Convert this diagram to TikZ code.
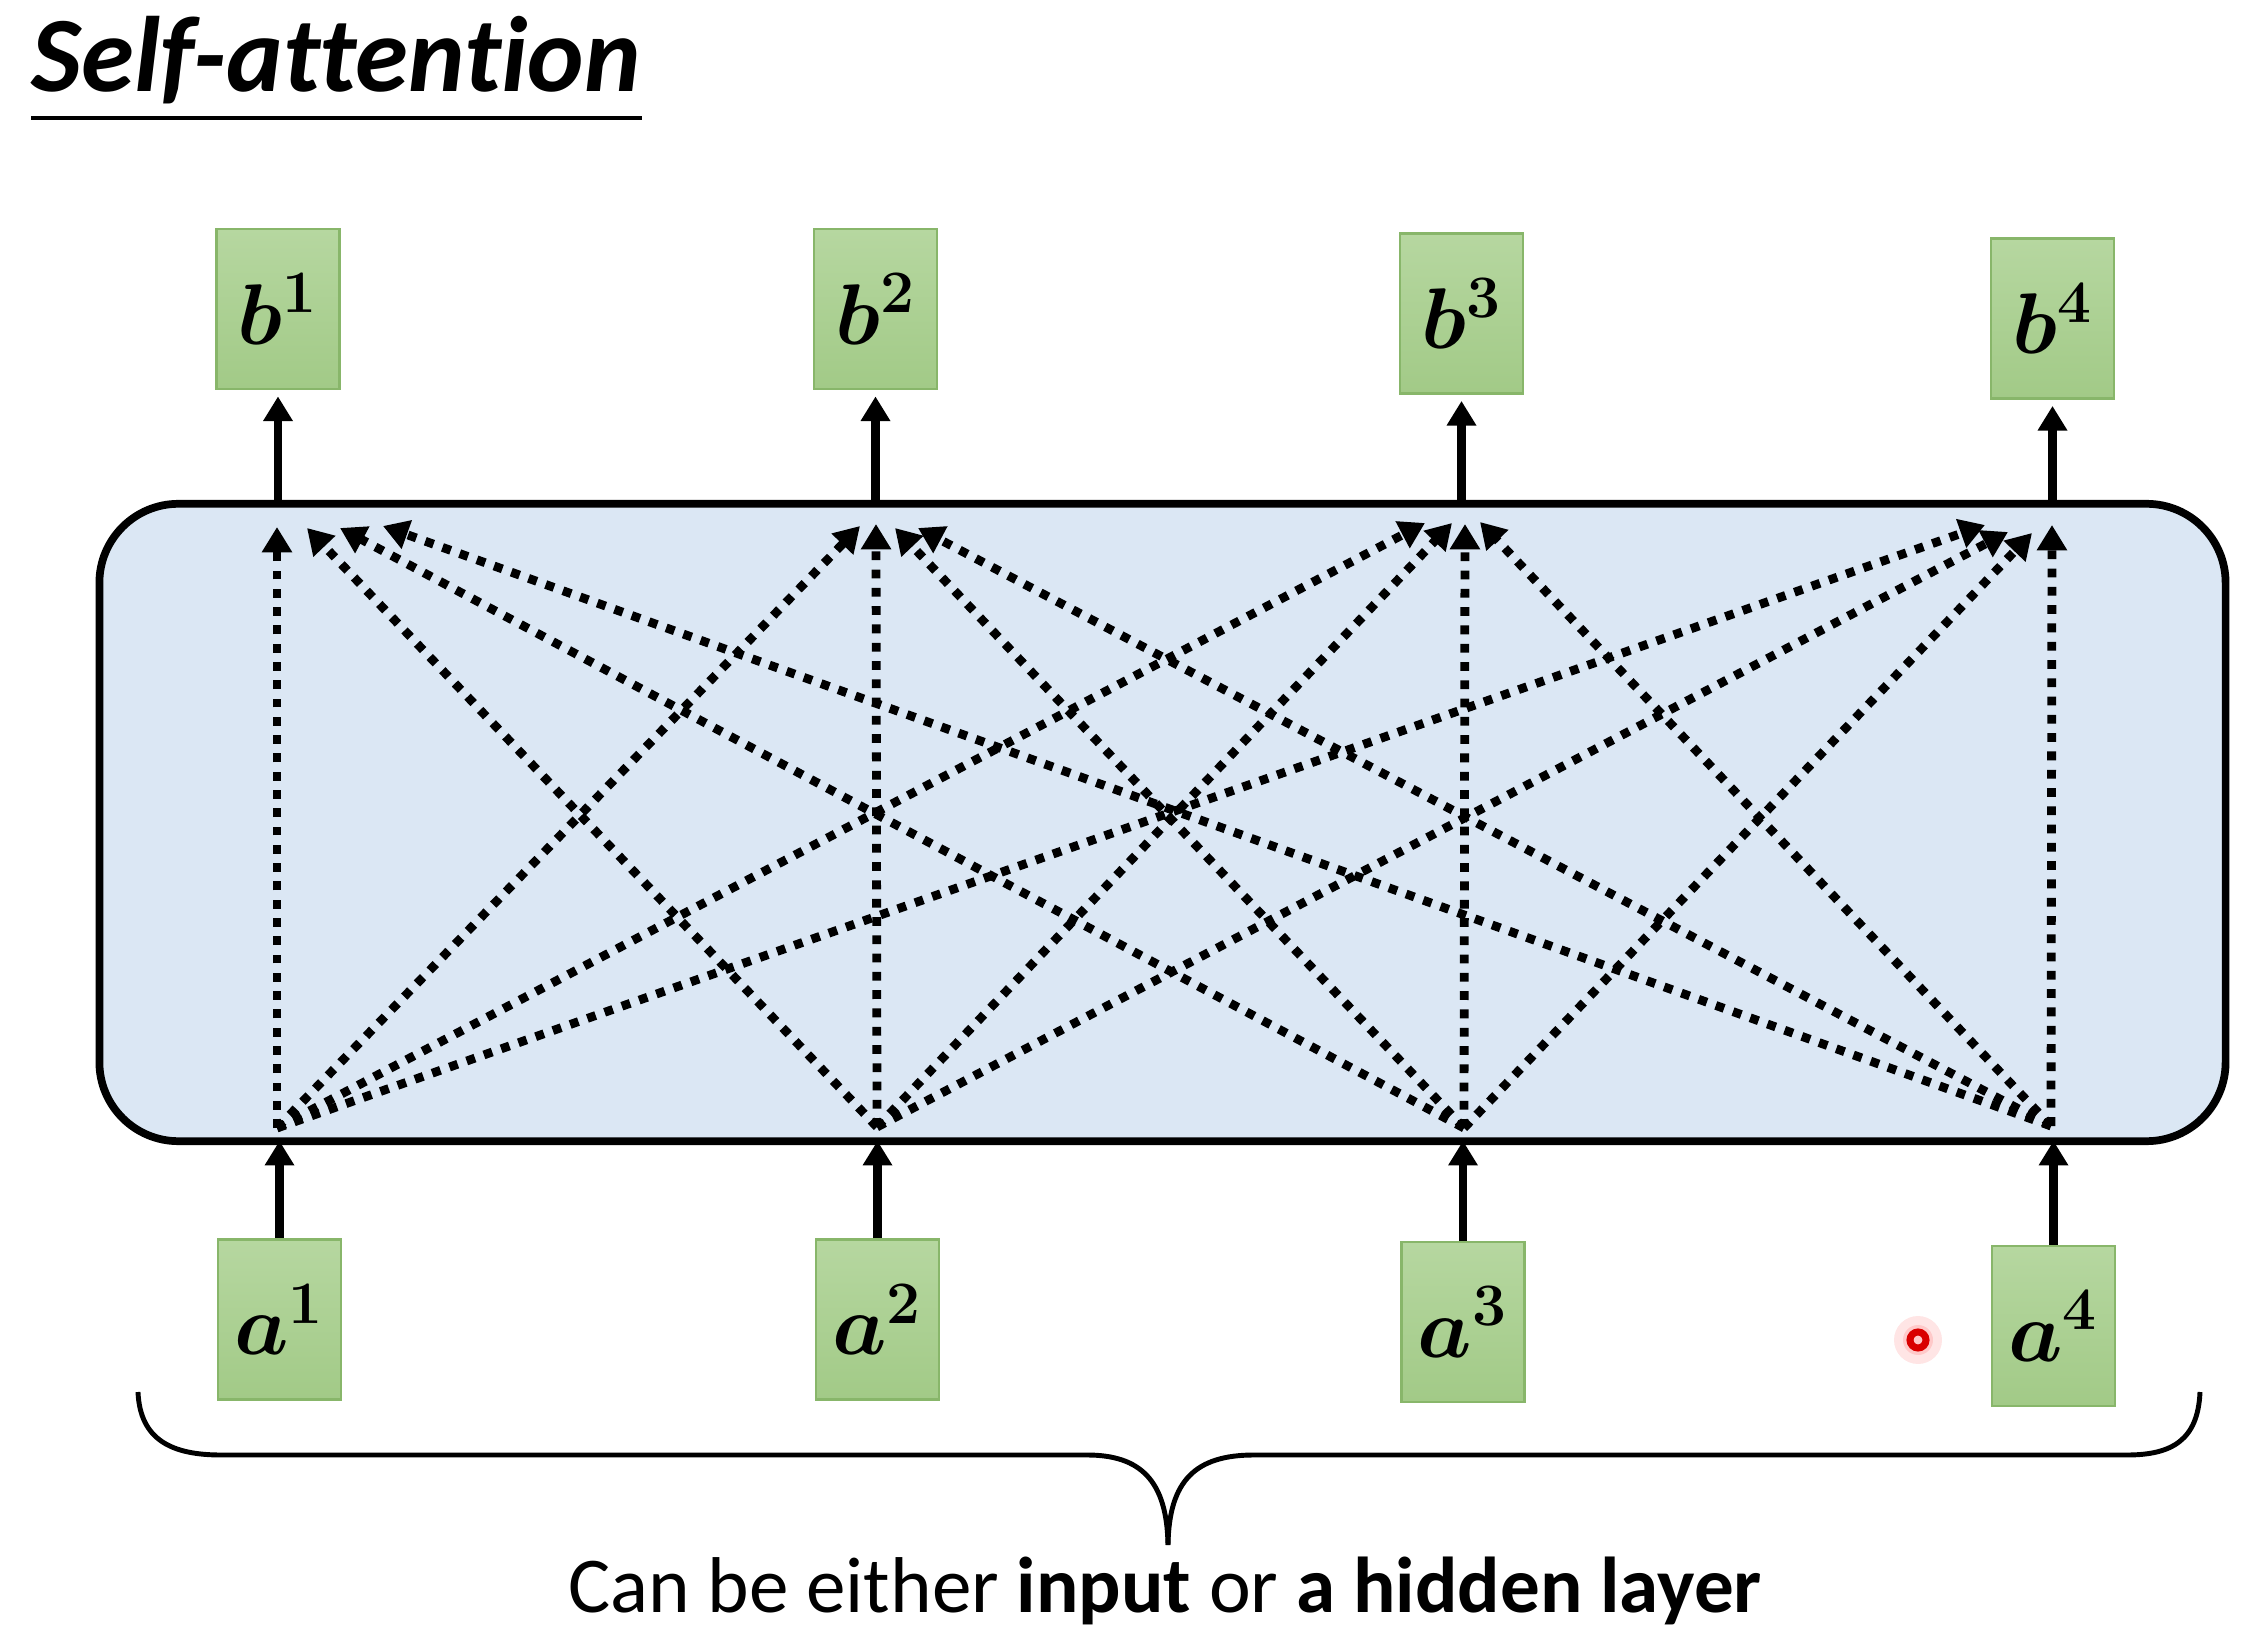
\RequirePackage{fix-cm}
\documentclass[tikz,border=0pt]{standalone}
\usepackage{amsmath}
\usepackage{fontspec}
\newfontfamily\calibri[Ligatures=NoCommon]{Carlito}
\usetikzlibrary{arrows.meta}
\definecolor{boxtop}{RGB}{182,215,160}
\definecolor{boxbot}{RGB}{162,202,135}
\definecolor{boxline}{RGB}{136,182,106}
\definecolor{attnfill}{RGB}{219,231,244}
\begin{document}
\begin{tikzpicture}[x=0.01cm,y=-0.01cm,
  greenbox/.style={draw=boxline, line width=0.8pt, top color=boxtop, bottom color=boxbot,
    minimum width=1.23cm, minimum height=1.60cm, inner sep=0pt,
    font=\fontsize{24.5}{28}\selectfont\boldmath},
  attnbox/.style={draw=black, line width=2.2pt, fill=attnfill, rounded corners=0.79cm,
    minimum width=21.25cm, minimum height=6.37cm, inner sep=0pt},
  solidarrow/.style={line width=2.4pt, -{Triangle[length=7pt,width=8pt]}},
  dotarrow/.style={line width=2.5pt, dash pattern=on 2.5pt off 2.7pt,
    -{Triangle[length=7.2pt,width=8.2pt]}},
  bracestyle/.style={line width=1.4pt}
]
\fill[white] (0,0) rectangle (2244,1652);
\useasboundingbox (0,0) rectangle (2244,1652);

% title
\node[anchor=base west, inner sep=0pt, font=\calibri\bfseries\itshape\fontsize{30.5}{36}\selectfont] (title) at (31,92) {Self-attention};
\draw[line width=1pt] (31,118) -- (title.east |- 0,118);

% attention block
\node[attnbox] (attn) at (1162.5,822.5) {};

% output boxes
\node[greenbox] (b1) at (278,309) {$b^{1}$};
\node[greenbox] (b2) at (875.5,309) {$b^{2}$};
\node[greenbox] (b3) at (1461.5,313.5) {$b^{3}$};
\node[greenbox] (b4) at (2052.5,318.5) {$b^{4}$};

% input boxes
\node[greenbox] (a1) at (279.5,1319.5) {$a^{1}$};
\node[greenbox] (a2) at (877.5,1319.5) {$a^{2}$};
\node[greenbox] (a3) at (1463,1322) {$a^{3}$};
\node[greenbox] (a4) at (2053.5,1326) {$a^{4}$};

% solid arrows
\foreach \k in {1,...,4}{
  \draw[solidarrow, shorten >=1.7pt] (b\k.south |- attn.north) -- (b\k.south);
  \draw[solidarrow, shorten >=-1.2pt] (a\k.north) -- (a\k.north |- attn.south);
}

% dotted attention connections
\coordinate (s1) at (277,1128);
\coordinate (s2) at (877,1127);
\coordinate (s3) at (1464,1128);
\coordinate (s4) at (2051,1126);

\coordinate (t1-1) at (277,527);
\coordinate (t1-2) at (307,528);
\coordinate (t1-3) at (340,528);
\coordinate (t1-4) at (383,526);
\coordinate (t2-1) at (860,526);
\coordinate (t2-2) at (876,524);
\coordinate (t2-3) at (895,528);
\coordinate (t2-4) at (918,528);
\coordinate (t3-1) at (1425,523);
\coordinate (t3-2) at (1452,523);
\coordinate (t3-3) at (1465,524);
\coordinate (t3-4) at (1480,522);
\coordinate (t4-1) at (1985,525);
\coordinate (t4-2) at (2008,532);
\coordinate (t4-3) at (2032,533);
\coordinate (t4-4) at (2052,525);

\foreach \s in {1,...,4}{
  \foreach \t in {1,...,4}{
    \draw[dotarrow] (s\s) -- (t\t-\s);
  }
}

% brace
\draw[bracestyle] (138,1392) .. controls (140,1440) and (172,1455) .. (221,1455)
  -- (1087,1455) .. controls (1140,1455) and (1167,1480) .. (1168,1545);
\draw[bracestyle] (1168,1545) .. controls (1169,1480) and (1196,1455) .. (1254,1455)
  -- (2127,1455) .. controls (2172,1455) and (2198,1440) .. (2200,1392);

% caption
\node[anchor=base, inner sep=0pt, font=\calibri\fontsize{22.5}{27}\selectfont] (cap) at (1165,1612)
  {Can be either \textbf{input} or \textbf{a hidden layer}};

% pointer dot
\fill[red, opacity=0.10] (1918,1340) circle (24);
\fill[red, opacity=0.12] (1918,1340) circle (15);
\draw[red!85!black, line width=2pt] (1918,1340) circle (8);
\end{tikzpicture}
\end{document}
